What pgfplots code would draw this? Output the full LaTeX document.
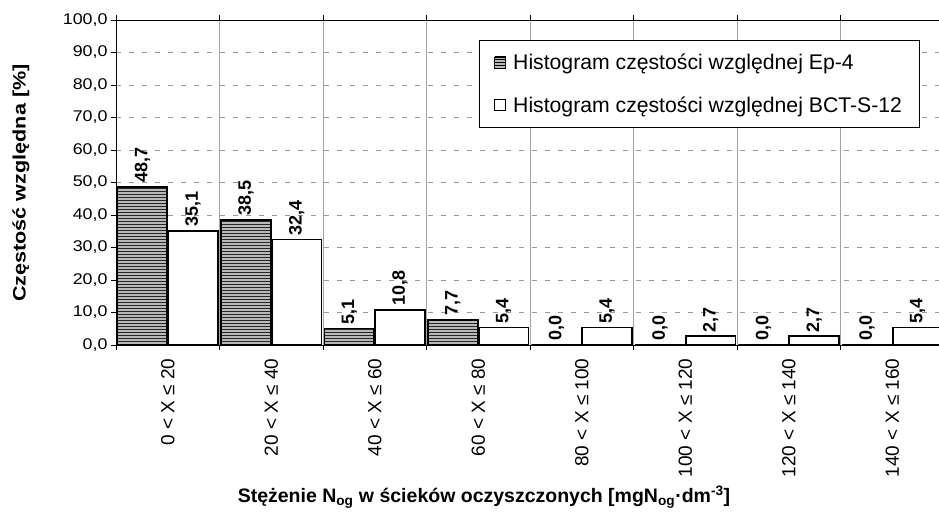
\documentclass[border=0pt]{standalone}
\usepackage{fontspec}
\setmainfont{Liberation Sans}
\newfontfamily\tickfont[FakeStretch=1.15]{Liberation Sans}
\newfontfamily\ylabfont[FakeStretch=1.2]{Liberation Sans Bold}
\usepackage{pgfplots}
\pgfplotsset{compat=1.18}
\usetikzlibrary{patterns}
\begin{document}
\begin{tikzpicture}
\useasboundingbox (0pt,0pt) rectangle (939pt,519pt);
\clip (0pt,0pt) rectangle (939pt,519pt);
\begin{axis}[
  at={(116pt,174pt)}, anchor=south west,
  scale only axis, width=828pt, height=325pt,
  ybar, bar width=0.48,
  xmin=-0.5, xmax=7.5, ymin=0, ymax=100,
  axis line style={black, line width=0.8pt},
  tick align=outside, major tick length=5pt,
  tick style={black, line width=0.6pt},
  ytick={0,10,...,100},
  yticklabel style={font=\fontsize{15.5}{15.5}\tickfont,
    /pgf/number format/fixed, /pgf/number format/fixed zerofill,
    /pgf/number format/precision=1, /pgf/number format/use comma,
    /pgf/number format/assume math mode=true},
  xtick={-0.5,0.5,...,7.5}, xticklabels={},
  xmajorgrids, ymajorgrids,
  x grid style={gray!70, line width=0.6pt},
  y grid style={gray!80, line width=0.6pt, dash pattern=on 5pt off 8pt},
  extra x ticks={0,1,2,3,4,5,6,7},
  extra x tick labels={{0 < X ≤ 20},{20 < X ≤ 40},{40 < X ≤ 60},{60 < X ≤ 80},{80 < X ≤ 100},{100 < X ≤ 120},{120 < X ≤ 140},{140 < X ≤ 160}},
  extra x tick style={grid=none, major tick length=0pt,
    xticklabel style={rotate=90, anchor=east, font=\fontsize{19}{19}\selectfont, xshift=-10pt}},
  xlabel={Stężenie N\textsubscript{og} w ścieków oczyszczonych [mgN\textsubscript{og}·dm\textsuperscript{-3}]},
  xlabel style={at={(axis description cs:0.4444,-0.468)}, anchor=center, font=\bfseries\fontsize{19.5}{19.5}\selectfont},
  ylabel={Częstość względna [\%]},
  ylabel style={at={(axis description cs:-0.1147,0.498)}, anchor=center, font=\fontsize{18}{18}\ylabfont},
  legend style={at={(axis description cs:0.4384,0.9385)}, anchor=north west,
    draw=black, line width=0.8pt, font=\fontsize{21.2}{21.2}\selectfont,
    inner xsep=15pt, inner ysep=12pt, row sep=21pt,
    /tikz/every odd column/.append style={column sep=5pt}},
  legend cell align=left,
  nodes near coords,
  nodes near coords style={rotate=90, anchor=west, font=\bfseries\fontsize{18}{18}\selectfont,
    /pgf/number format/fixed, /pgf/number format/fixed zerofill,
    /pgf/number format/precision=1, /pgf/number format/use comma,
    /pgf/number format/assume math mode=true},
]
\addplot[bar shift=-0.245, draw=black, line width=1.6pt,
  fill=gray!55, postaction={pattern=horizontal lines, pattern color=black!85},
  legend image code/.code={\draw[line width=0.8pt, fill=gray!55, postaction={pattern=horizontal lines, pattern color=black}] (0pt,-5pt) rectangle (11pt,6pt);}]
  coordinates {(0,48.7) (1,38.5) (2,5.1) (3,7.7) (4,0) (5,0) (6,0) (7,0)};
\addlegendentry{Histogram częstości względnej Ep-4}
\addplot[bar shift=0.245, draw=black, line width=1.6pt, fill=white,
  legend image code/.code={\draw[line width=0.8pt, fill=white] (0pt,-5pt) rectangle (11pt,6pt);}]
  coordinates {(0,35.1) (1,32.4) (2,10.8) (3,5.4) (4,5.4) (5,2.7) (6,2.7) (7,5.4)};
\addlegendentry{Histogram częstości względnej BCT-S-12}
\end{axis}
\end{tikzpicture}
\end{document}
